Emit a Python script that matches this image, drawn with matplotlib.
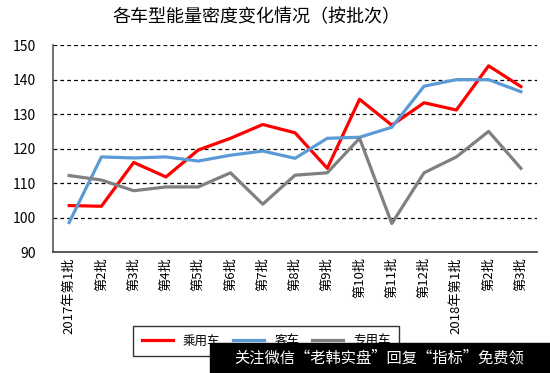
import matplotlib.pyplot as plt
import numpy as np

plt.rcParams['font.family'] = ['Noto Sans CJK SC', 'DejaVu Sans']

# Data
batches = ["2017年第1批", "第2批", "第3批", "第4批", "第5批", "第6批", "第7批", "第8批",
           "第9批", "第10批", "第11批", "第12批", "2018年第1批", "第2批", "第3批"]
passenger = [103.5, 103.3, 116, 111.8, 119.6, 123, 127, 124.6, 114.3, 134.3, 126.8, 133.3, 131.2, 144, 138]
bus = [98.6, 117.6, 117.3, 117.6, 116.4, 118.1, 119.3, 117.2, 123, 123.3, 126.2, 138.1, 140, 140, 136.5]
special = [112.2, 110.9, 107.8, 108.9, 108.9, 113, 103.9, 112.3, 113, 123, 98.3, 113, 117.6, 125, 114.3]
names = ["乘用车", "客车", "专用车"]
colors = ["#FF0000", "#5B9BD5", "#808080"]

fig = plt.figure(figsize=(5.5, 3.73), dpi=100)
ax = fig.add_axes([0.0964, 0.324, 0.88, 0.555])

x = np.arange(len(batches))
for vals, name, c in zip([passenger, bus, special], names, colors):
    ax.plot(x, vals, color=c, lw=2.3, label=name)

ax.set_xlim(-0.5, len(batches) - 0.5)
ax.set_ylim(90, 150)
ax.set_yticks(np.arange(90, 151, 10))
ax.yaxis.grid(True, linestyle=(0, (3, 2.5)), color="black", lw=0.9)
ax.set_axisbelow(True)
ax.set_xticks(x)
ax.set_xticklabels(batches, rotation=90, fontsize=9.5)
ax.tick_params(axis="both", length=0, labelsize=10)
ax.tick_params(axis="x", labelsize=9.5)
ax.tick_params(axis="y", pad=12)
for s in ["top", "right"]:
    ax.spines[s].set_visible(False)
ax.spines["left"].set_color("#595959")
ax.spines["bottom"].set_color("#404040")
ax.spines["left"].set_linewidth(1.2)
ax.spines["bottom"].set_linewidth(1.2)

fig.text(0.467, 0.955, "各车型能量密度变化情况（按批次）", ha="center", va="center", fontsize=13)

leg = fig.legend(loc="center", bbox_to_anchor=(0.484, 0.086), ncol=3, fontsize=9,
                 frameon=True, fancybox=False, edgecolor="black", handlelength=2.5,
                 columnspacing=1.0, borderpad=0.7)
leg.get_frame().set_linewidth(1.0)

# watermark bar
fig.patches.append(plt.Rectangle((0.382, 0.0), 0.618, 0.08, transform=fig.transFigure,
                                 color="black", zorder=10))
fig.text(0.69, 0.04, "关注微信“老韩实盘”回复“指标”免费领", color="white", ha="center",
         va="center", fontsize=11, zorder=11)

fig.savefig("out.png", dpi=100)
